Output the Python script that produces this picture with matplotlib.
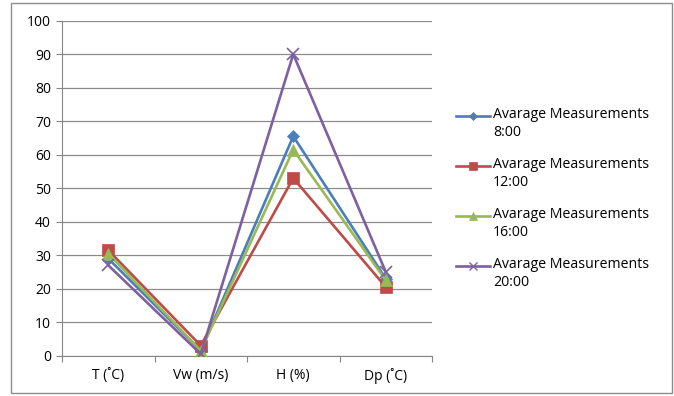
import matplotlib
matplotlib.use("Agg")
import matplotlib.pyplot as plt
from matplotlib.lines import Line2D
from matplotlib.patches import Rectangle

categories = ["T (˚C)", "Vw (m/s)", "H (%)", "Dp (˚C)"]
labels = ["Avarage Measurements\n8:00", "Avarage Measurements\n12:00",
          "Avarage Measurements\n16:00", "Avarage Measurements\n20:00"]
avg_0800 = [29, 1.5, 65.5, 23]
avg_1200 = [31.5, 3, 53, 20.5]
avg_1600 = [30.5, 1.5, 61.5, 22.5]
avg_2000 = [27, 0.5, 90, 25]

series = [avg_0800, avg_1200, avg_1600, avg_2000]
colors = ["#4A7EBB", "#BE4B48", "#98B954", "#7D60A0"]
markers = ["D", "s", "^", "x"]
msizes = [6, 8, 8, 9]

plt.rcParams["font.family"] = ["Open Sans", "DejaVu Sans"]

W, H = 674, 396
fig = plt.figure(figsize=(W / 100, H / 100), dpi=100)
fig.add_artist(Rectangle((11 / W, 3 / H), 661 / W, 390 / H, transform=fig.transFigure,
                         fill=False, edgecolor="#8c8c8c", linewidth=1))

ax = fig.add_axes([62 / W, (H - 355.7) / H, 370 / W, 335 / H])
x = list(range(len(categories)))
for vals, c, m, ms in zip(series, colors, markers, msizes):
    ax.plot(x, vals, color=c, linewidth=1.9, marker=m, markersize=ms,
            markeredgewidth=1.2 if m == "x" else 0.5, zorder=3)

ax.set_xlim(-0.5, 3.5)
ax.set_ylim(0, 100)
ax.set_yticks(range(0, 101, 10))
ax.set_xticks([-0.5, 0.5, 1.5, 2.5, 3.5])
ax.set_xticklabels([])
ax.set_xticks(x, minor=True)
ax.set_xticklabels(categories, minor=True)
ax.tick_params(axis="x", which="minor", length=0, pad=9, labelsize=10)
ax.tick_params(axis="x", which="major", length=4, color="#868686")
ax.tick_params(axis="y", length=4, color="#868686", labelsize=10, pad=4)
ax.grid(axis="y", color="#8c8c8c", linewidth=0.9)
ax.set_axisbelow(True)
for s in ["top", "right"]:
    ax.spines[s].set_visible(False)
for s in ["left", "bottom"]:
    ax.spines[s].set_color("#868686")

# legend drawn at the right, Excel style
for i, (lab, c, m, ms) in enumerate(zip(labels, colors, markers, msizes)):
    yy = (H - (116 + 50 * i)) / H
    fig.add_artist(Line2D([456 / W, 490 / W], [yy, yy], transform=fig.transFigure,
                          color=c, linewidth=1.9))
    fig.add_artist(Line2D([473 / W], [yy], transform=fig.transFigure, color=c,
                          marker=m, markersize=ms * 0.7, markeredgewidth=1.0 if m == "x" else 0.5))
    fig.text(493 / W, yy + 9 / H, lab, fontsize=10.2, va="top", ha="left", linespacing=1.25)

fig.savefig("out.png", dpi=100)
